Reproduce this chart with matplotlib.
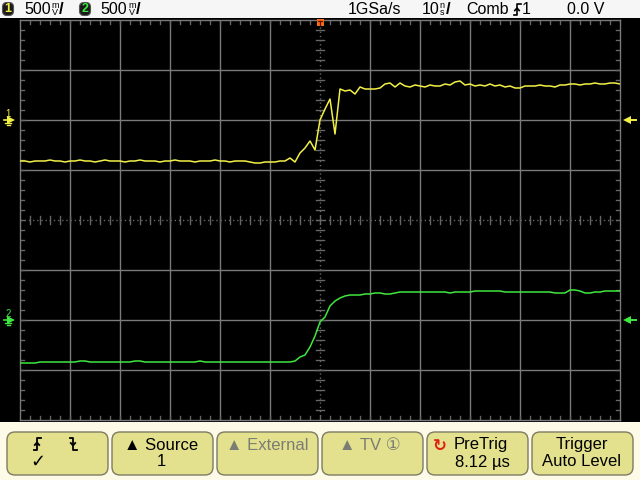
import numpy as np
import matplotlib
matplotlib.use("Agg")
import matplotlib.pyplot as plt
from matplotlib.patches import Rectangle, FancyBboxPatch

# ---------------- data ----------------
sample_period_ns = 1.0          # 1 GSa/s
t_start_ns = -60.0
ch1_volts_per_div = 0.5
ch2_volts_per_div = 0.5
ch1_ground_div = 2.0
ch2_ground_div = -2.0

ch1_volts = [
    -0.41, -0.41, -0.42, -0.41, -0.41, -0.41, -0.40, -0.41, -0.41, -0.42,
    -0.41, -0.41, -0.40, -0.41, -0.41, -0.42, -0.41, -0.40, -0.41, -0.41,
    -0.41, -0.42, -0.41, -0.41, -0.40, -0.41, -0.41, -0.41, -0.42, -0.41,
    -0.41, -0.40, -0.41, -0.41, -0.41, -0.42, -0.41, -0.41, -0.41, -0.40,
    -0.41, -0.41, -0.42, -0.41, -0.41, -0.41, -0.42, -0.43, -0.43, -0.42,
    -0.42, -0.42, -0.41, -0.41, -0.38, -0.42,
    -0.33, -0.28, -0.21, -0.30, 0.00, 0.11, 0.21, -0.14, 0.31, 0.29,
    0.30, 0.26, 0.33, 0.31, 0.31, 0.31, 0.32, 0.36, 0.37, 0.33, 0.37,
    0.34, 0.33, 0.35, 0.34, 0.33, 0.35, 0.34, 0.34, 0.36, 0.35,
    0.38, 0.39, 0.35, 0.36, 0.34, 0.35, 0.34, 0.36, 0.34, 0.35,
    0.33, 0.34, 0.32, 0.32, 0.34, 0.34, 0.34, 0.35, 0.34, 0.34,
    0.33, 0.35, 0.35, 0.36, 0.36, 0.35, 0.36, 0.36, 0.37, 0.36,
    0.36, 0.37, 0.37, 0.36,
]

ch2_volts = [
    -0.43, -0.43, -0.43, -0.43, -0.42, -0.42, -0.42, -0.42, -0.42, -0.42,
    -0.42, -0.42, -0.41, -0.41, -0.42, -0.42, -0.42, -0.42, -0.42, -0.42,
    -0.42, -0.42, -0.42, -0.41, -0.41, -0.42, -0.42, -0.42, -0.42, -0.42,
    -0.42, -0.42, -0.42, -0.42, -0.42, -0.42, -0.41, -0.42, -0.42, -0.42,
    -0.42, -0.42, -0.42, -0.42, -0.42, -0.42, -0.42, -0.42, -0.42, -0.42,
    -0.42, -0.42, -0.42, -0.42, -0.42, -0.41,
    -0.37, -0.35, -0.27, -0.16, -0.02, 0.03, 0.14, 0.19, 0.22, 0.24,
    0.25, 0.25, 0.25, 0.26, 0.26, 0.27, 0.27, 0.26, 0.26, 0.27, 0.28,
    0.28, 0.28, 0.28, 0.28, 0.28, 0.28, 0.28, 0.28, 0.28, 0.27,
    0.28, 0.28, 0.28, 0.28, 0.29, 0.29, 0.29, 0.29, 0.29, 0.29,
    0.28, 0.28, 0.28, 0.28, 0.28, 0.28, 0.28, 0.28, 0.28, 0.28,
    0.27, 0.27, 0.27, 0.30, 0.30, 0.29, 0.27, 0.27, 0.28, 0.28,
    0.29, 0.29, 0.29, 0.29,
]

top_left_labels = ["500", "500"]
top_right_labels = ["1GSa/s", "10", "Comb", "1", "0.0 V"]
button_labels = [("", ""), ("\u25B2 Source", "1"), ("\u25B2 External", ""),
                 ("\u25B2 TV \u2460", ""), ("PreTrig", "8.12 \u00b5s"),
                 ("Trigger", "Auto Level")]

# ---------------- styling ----------------
YEL = "#f2f046"
GRN = "#3ee83e"
GRID = "#7a7a7a"
DOT = "#666666"
FONT = ["Liberation Sans", "DejaVu Sans"]

fig = plt.figure(figsize=(6.4, 4.8), dpi=100, facecolor="black")

# scope graticule axes (pixels 20..620 x 20..420)
ax = fig.add_axes([20 / 640, 60 / 480, 600 / 640, 400 / 480], facecolor="black", zorder=2)
t = t_start_ns + sample_period_ns * np.arange(len(ch1_volts))
ax.set_xlim(-60, 60)
ax.set_ylim(-4, 4)
for s in ax.spines.values():
    s.set_color(GRID)
    s.set_linewidth(1.0)
ax.set_xticks([])
ax.set_yticks([])

for xd in range(-50, 60, 10):
    if xd == 0:
        ax.axvline(0, color=DOT, lw=1.0, ls=(0, (1, 2)), zorder=1)
    else:
        ax.axvline(xd, color=GRID, lw=1.0, zorder=1)
for yd in range(-3, 4):
    if yd == 0:
        ax.axhline(0, color=DOT, lw=1.0, ls=(0, (1, 2)), zorder=1)
    else:
        ax.axhline(yd, color=GRID, lw=1.0, zorder=1)

# minor ticks along centre lines and borders
for xm in np.arange(-58, 60, 2):
    ax.plot([xm, xm], [-0.08, 0.08], color=DOT, lw=1.0, zorder=1)
    ax.plot([xm, xm], [4, 3.92], color=DOT, lw=1.0, zorder=1)
    ax.plot([xm, xm], [-4, -3.92], color=DOT, lw=1.0, zorder=1)
for ym in np.arange(-3.8, 4.0, 0.2):
    ax.plot([-0.8, 0.8], [ym, ym], color=DOT, lw=1.0, zorder=1)
    ax.plot([-60, -59.2], [ym, ym], color=DOT, lw=1.0, zorder=1)
    ax.plot([60, 59.2], [ym, ym], color=DOT, lw=1.0, zorder=1)

ch1_div = np.array(ch1_volts) / ch1_volts_per_div + ch1_ground_div
ch2_div = np.array(ch2_volts) / ch2_volts_per_div + ch2_ground_div
ax.plot(t, ch1_div, color=YEL, lw=1.1, zorder=3)
ax.plot(t, ch2_div, color=GRN, lw=1.1, zorder=3)

# ---------------- overlay (pixel coordinates) ----------------
ov = fig.add_axes([0, 0, 1, 1], zorder=3)
ov.set_xlim(0, 640)
ov.set_ylim(480, 0)
ov.axis("off")
ov.patch.set_alpha(0)

# top status bar
ov.add_patch(Rectangle((0, 0), 640, 18, facecolor="#f6f6f6", edgecolor="none"))


def badge(x, y, txt, col):
    ov.add_patch(FancyBboxPatch((x - 5.5, y - 6.5), 11, 13, boxstyle="round,pad=0,rounding_size=4.5",
                                facecolor="#1a1a1a", edgecolor="#555555", lw=0.8))
    ov.text(x, y + 0.5, txt, color=col, fontsize=9, fontweight="bold", ha="center",
            va="center", family=FONT)


def stacked_unit(x, y, top, bottom):
    ov.text(x, y, top + "\n" + bottom, fontsize=6.5, ha="center", va="center", family=FONT,
            color="black", linespacing=0.85)
    ov.text(x + 6.5, y, "/", fontsize=12, ha="center", va="center", family=FONT, color="black",
            fontweight="bold")


def edge(x, y, h, rising, col, lw=1.3):
    top, bot = y - h / 2, y + h / 2
    if rising:
        ov.plot([x - 3.5, x, x, x + 3.5], [bot, bot, top, top], color=col, lw=lw)
        ov.plot([x - 2.2, x, x + 2.2], [y + 1, y - 1.5, y + 1], color=col, lw=lw)
    else:
        ov.plot([x - 3.5, x, x, x + 3.5], [top, top, bot, bot], color=col, lw=lw)
        ov.plot([x - 2.2, x, x + 2.2], [y - 1, y + 1.5, y - 1], color=col, lw=lw)


TB = dict(fontsize=11.5, va="center", family=FONT, color="black")
badge(8, 9, "1", YEL)
ov.text(24, 9.5, top_left_labels[0], ha="left", **TB)
stacked_unit(55, 9, "m", "V")
badge(85, 9, "2", GRN)
ov.text(100, 9.5, top_left_labels[1], ha="left", **TB)
stacked_unit(132, 9, "m", "V")

ov.text(348, 9.5, top_right_labels[0], ha="left", **TB)
ov.text(422, 9.5, top_right_labels[1], ha="left", **TB)
ov.text(442, 9, "n\ns", fontsize=6.5, ha="center", va="center", family=FONT, color="black",
        linespacing=0.85)
ov.text(448.5, 9.5, "/", fontsize=12, ha="center", va="center", family=FONT, color="black",
        fontweight="bold")
ov.text(466, 9.5, top_right_labels[2], ha="left", **TB)
edge(517, 9.5, 11, True, "black", lw=1.2)
ov.text(522, 9.5, top_right_labels[3], ha="left", **TB)
ov.text(567, 9.5, top_right_labels[4], ha="left", **TB)

# trigger position marker
ov.add_patch(Rectangle((316.5, 19), 7, 7, facecolor="#ff6a1a", edgecolor="none"))
ov.plot([318, 322], [21, 21], color="#5a1a00", lw=0.9)
ov.plot([320, 320], [21, 25], color="#5a1a00", lw=0.9)

# channel ground markers (left) and right arrows
for yy, col, num in [(120, YEL, "1"), (320, GRN, "2")]:
    ov.text(8, yy - 6, num, color=col, fontsize=7, ha="center", va="center", family=FONT)
    ov.plot([4, 12], [yy, yy], color=col, lw=1.2)
    ov.plot([8, 8], [yy, yy + 1], color=col, lw=1.2)
    ov.plot([5, 11], [yy + 2.5, yy + 2.5], color=col, lw=1.0)
    ov.plot([6.5, 9.5], [yy + 5, yy + 5], color=col, lw=1.0)
    ov.plot([11], [yy], marker=">", color=col, markersize=5.5, mew=0)
    ov.plot([628, 636], [yy, yy], color=col, lw=1.4)
    ov.plot([627], [yy], marker="<", color=col, markersize=6, mew=0)

# bottom soft-key area
ov.add_patch(Rectangle((0, 422), 640, 58, facecolor="#fdfbe8", edgecolor="none"))
btn_x = [7, 112, 217, 322, 427, 532]
for i, bx in enumerate(btn_x):
    ov.add_patch(FancyBboxPatch((bx, 432), 101, 43, boxstyle="round,pad=0,rounding_size=8",
                                facecolor="#e3e18d", edgecolor="#7d7b62", lw=1.0))

BT = dict(fontsize=12, ha="center", va="center", family=FONT)
# button 1: slope selection
edge(37, 444, 12, True, "black", lw=1.3)
edge(73, 444, 12, False, "black", lw=1.3)
ov.text(38, 462, "\u2713", fontsize=13, ha="center", va="center", family=["DejaVu Sans"], color="black")
# button 2
ov.text(161, 445, button_labels[1][0], color="black", **BT)
ov.text(161, 462, button_labels[1][1], color="black", **BT)
# buttons 3, 4 (disabled)
ov.text(267, 445, button_labels[2][0], color="#7c7c74", **BT)
ov.text(370, 445, button_labels[3][0], color="#7c7c74", **BT)
# button 5
ov.text(440, 446, "\u21BB", fontsize=12, ha="center", va="center", family=["DejaVu Sans"],
        color="#e02010", fontweight="bold")
ov.text(481, 445, button_labels[4][0], color="black", **BT)
ov.text(482, 462, button_labels[4][1], color="black", **BT)
# button 6
ov.text(582, 445, button_labels[5][0], color="black", **BT)
ov.text(582, 462, button_labels[5][1], color="black", **BT)

fig.savefig("out.png", dpi=100, facecolor="black")
